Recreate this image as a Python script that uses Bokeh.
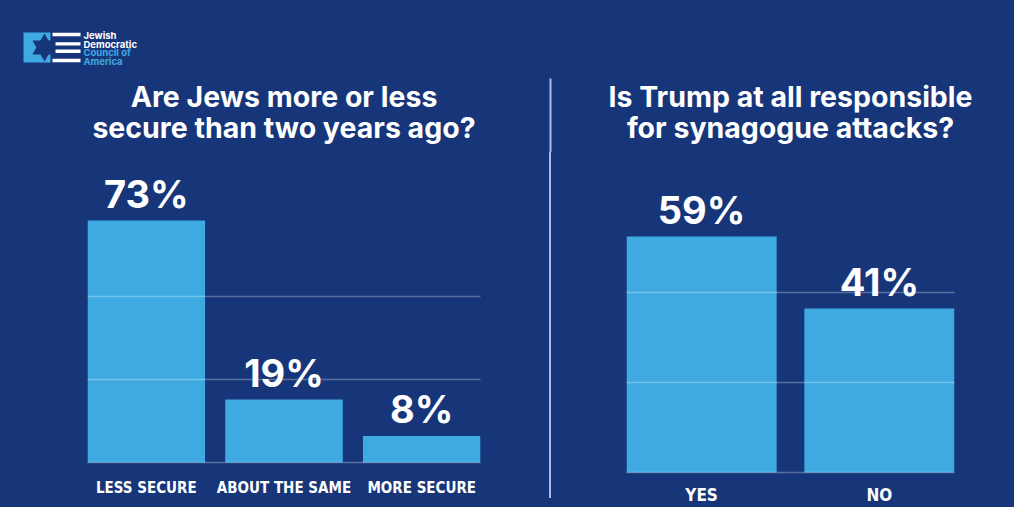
from bokeh.plotting import figure
from bokeh.layouts import row, column
from bokeh.models import ColumnDataSource, Range1d, FixedTicker, LabelSet, Spacer
from bokeh.core.properties import value
from bokeh.embed import file_html
from bokeh.resources import INLINE

# ---- data ----
left_title = ["Are Jews more or less", "secure than two years ago?"]
left_categories = ["LESS SECURE", "ABOUT THE SAME", "MORE SECURE"]
left_values = [73, 19, 8]
left_grid = [0, 25, 50]

right_title = ["Is Trump at all responsible", "for synagogue attacks?"]
right_categories = ["YES", "NO"]
right_values = [59, 41]
right_grid = [0, 22.5, 45]

logo_lines = ["Jewish", "Democratic", "Council of", "America"]

# ---- style ----
BG = "#17367a"
BAR = "#3fa9e1"
WHITE = "#ffffff"
DIVIDER = "#aebbe6"
TITLE_FONT = "Inter"
CAT_FONT = "DejaVu Sans Condensed"
BGSTYLE = {"background-color": BG}

W, H = 1014, 507
HEADER_H = 152
CHART_H = H - HEADER_H
BB = 34
FRAME_H = CHART_H - BB
LEFT_W, DIV_W = 549, 2
RIGHT_W = W - LEFT_W - DIV_W
L_BL, L_FW = 87, 393
R_BL, R_FW = 75, 328


def make_chart(cats, vals, grid_ticks, width, bl, fw, bar_w, y_start, y_end,
               cat_size, standoff):
    n = len(cats)
    xs = list(range(n))
    half = bar_w / 2
    p = figure(width=width, height=CHART_H, output_backend="svg",
               toolbar_location=None, tools="",
               x_range=Range1d(-half, n - 1 + half),
               y_range=Range1d(y_start, y_end),
               y_axis_location=None,
               min_border_left=bl, min_border_right=width - bl - fw,
               min_border_bottom=BB, min_border_top=0)
    p.styles = BGSTYLE
    p.background_fill_color = BG
    p.border_fill_color = BG
    p.outline_line_color = None

    src = ColumnDataSource(dict(x=xs, top=vals,
                                label=[f"{v}%" for v in vals]))
    p.vbar(x="x", top="top", bottom=0, width=bar_w, source=src,
           fill_color=BAR, line_color=None)

    labels = LabelSet(x="x", y="top", text="label", source=src,
                      y_offset=13, text_align="center", text_baseline="alphabetic",
                      text_font=value(TITLE_FONT), text_font_style="bold",
                      text_font_size="38px", text_color=WHITE)
    p.add_layout(labels)

    p.xgrid.visible = False
    p.ygrid.ticker = FixedTicker(ticks=grid_ticks)
    p.ygrid.grid_line_color = WHITE
    p.ygrid.grid_line_alpha = 0.28
    p.ygrid.grid_line_width = 1.5
    p.ygrid.level = "overlay"

    ax = p.xaxis[0]
    ax.ticker = FixedTicker(ticks=xs)
    ax.major_label_overrides = {i: c for i, c in zip(xs, cats)}
    ax.axis_line_color = None
    ax.major_tick_line_color = None
    ax.minor_tick_line_color = None
    ax.major_tick_out = 0
    ax.major_tick_in = 0
    ax.major_label_standoff = standoff
    ax.major_label_text_font = CAT_FONT
    ax.major_label_text_font_style = "bold"
    ax.major_label_text_font_size = cat_size
    ax.major_label_text_color = WHITE
    return p


left_ppu = 3.315
left_start = -11 / left_ppu
left = make_chart(left_categories, left_values, left_grid, LEFT_W, L_BL, L_FW,
                  bar_w=117.5 / 137.7, y_start=left_start,
                  y_end=left_start + FRAME_H / left_ppu, cat_size="15px", standoff=5)
right = make_chart(right_categories, right_values, right_grid, RIGHT_W, R_BL, R_FW,
                   bar_w=150 / 177.6, y_start=-0.25, y_end=-0.25 + FRAME_H / 4.0,
                   cat_size="17px", standoff=11)

# ---- divider (lower part) ----
div = Spacer(width=DIV_W, height=498 - HEADER_H, styles={"background-color": DIVIDER})

# ---- header: logo, titles, upper part of divider ----
hdr = figure(width=W, height=HEADER_H, output_backend="svg", toolbar_location=None,
             tools="", x_range=Range1d(0, W), y_range=Range1d(HEADER_H, 0),
             x_axis_location=None, y_axis_location=None, min_border=0)
hdr.styles = BGSTYLE
hdr.background_fill_color = BG
hdr.border_fill_color = BG
hdr.outline_line_color = None
hdr.grid.visible = False

# logo mark
hdr.quad(left=[23], right=[50], top=[32], bottom=[62], fill_color=BAR, line_color=None)
hdr.patches(xs=[[44, 31.9, 56.1], [44, 31.9, 56.1]],
            ys=[[33, 54, 54], [61, 40, 40]], fill_color=BG, line_color=None)
hdr.quad(left=[52, 55, 55, 52], right=[80, 80, 80, 80],
         top=[32.3, 41.7, 49.0, 58.3], bottom=[35.7, 45.0, 52.4, 61.7],
         fill_color=WHITE, line_color=None)
hdr.text(x=[83] * 4, y=[35, 43.7, 52.4, 61], text=logo_lines,
         text_font=value(TITLE_FONT), text_font_style="bold", text_font_size="9.5px",
         text_color=[WHITE, WHITE, BAR, BAR], text_baseline="middle")

# chart titles, centred over each chart's plot area
lc = L_BL + L_FW / 2
rc = LEFT_W + DIV_W + R_BL + R_FW / 2
title_rows = [96, 126.5]
hdr.text(x=[lc, lc, rc, rc], y=title_rows * 2,
         text=left_title + right_title,
         text_font=value(TITLE_FONT), text_font_style="bold", text_font_size="28.5px",
         text_color=WHITE, text_align="center", text_baseline="middle")

# divider (upper part)
hdr.quad(left=[LEFT_W], right=[LEFT_W + DIV_W], top=[78], bottom=[HEADER_H],
         fill_color=DIVIDER, line_color=None)

charts = row(left, div, right, spacing=0, styles=BGSTYLE)
layout = column(hdr, charts, spacing=0, styles=BGSTYLE)
open("out.html", "w").write(file_html(layout, INLINE))
